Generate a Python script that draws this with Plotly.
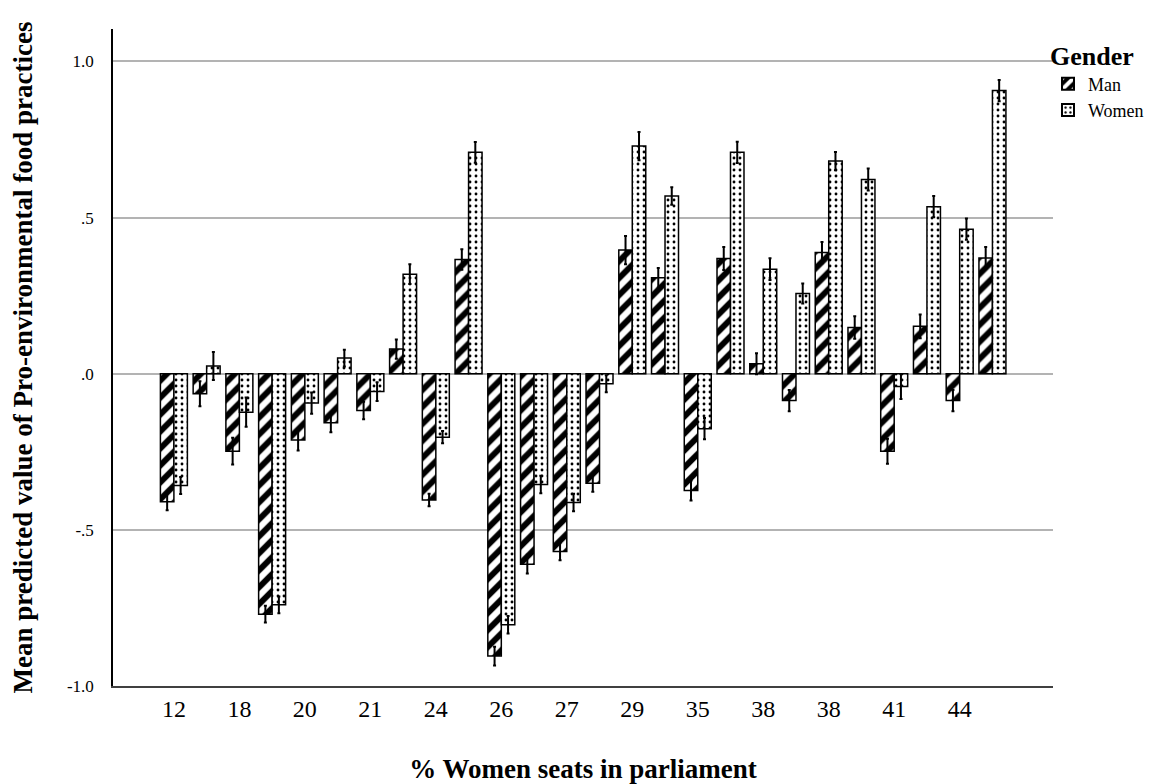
import plotly.graph_objects as go

# ---- data ----
groups = list(range(26))
tick_labels = ["12", "18", "20", "21", "24", "26", "27", "29", "35", "38", "38", "41", "44"]
tick_groups = list(range(0, 26, 2))

man = [-0.410, -0.064, -0.248, -0.770, -0.212, -0.157, -0.118, 0.079, -0.404, 0.366,
       -0.904, -0.610, -0.569, -0.351, 0.396, 0.307, -0.374, 0.369, 0.032, -0.086,
       0.388, 0.148, -0.248, 0.152, -0.086, 0.371]
women = [-0.358, 0.025, -0.123, -0.740, -0.094, 0.050, -0.057, 0.319, -0.203, 0.709,
         -0.804, -0.355, -0.412, -0.032, 0.729, 0.569, -0.176, 0.709, 0.335, 0.257,
         0.681, 0.622, -0.041, 0.535, 0.463, 0.907]
man_err = [0.027, 0.040, 0.043, 0.027, 0.034, 0.030, 0.028, 0.031, 0.020, 0.033,
           0.030, 0.030, 0.028, 0.027, 0.045, 0.032, 0.032, 0.037, 0.034, 0.034,
           0.034, 0.036, 0.040, 0.038, 0.034, 0.035]
women_err = [0.027, 0.045, 0.047, 0.027, 0.034, 0.027, 0.030, 0.032, 0.020, 0.033,
             0.028, 0.028, 0.028, 0.027, 0.045, 0.028, 0.034, 0.034, 0.035, 0.032,
             0.029, 0.035, 0.040, 0.034, 0.034, 0.034]

y_ticks = [-1.0, -0.5, 0.0, 0.5, 1.0]
y_ticktext = ["-1.0", "-.5", ".0", ".5", "1.0"]

SERIF = "Liberation Serif, Times New Roman, serif"

fig = go.Figure()
fig.add_trace(go.Bar(
    x=groups, y=man, name="Man",
    marker=dict(color="black", line=dict(color="black", width=1.5),
                pattern=dict(shape="/", bgcolor="black", fgcolor="white",
                             fgopacity=1, size=12, solidity=0.5)),
    error_y=dict(type="data", array=man_err, visible=True,
                 color="black", thickness=2, width=1.5),
))
fig.add_trace(go.Bar(
    x=groups, y=women, name="Women",
    marker=dict(color="white", line=dict(color="black", width=1.5),
                pattern=dict(shape=".", bgcolor="white", fgcolor="black",
                             fgopacity=1, size=6, solidity=0.18)),
    error_y=dict(type="data", array=women_err, visible=True,
                 color="black", thickness=2, width=1.5),
))

# page body has an 8px margin, so the figure is 8px smaller and shifted
fig.update_layout(
    width=1145, height=776,
    margin=dict(l=105, r=100, t=21, b=98, autoexpand=False),
    paper_bgcolor="white", plot_bgcolor="white",
    barmode="group", bargap=0.176, bargroupgap=0.0,
    font=dict(family=SERIF, color="black"),
    showlegend=True,
    legend=dict(
        title=dict(text="<b>Gender</b>", font=dict(size=26, family=SERIF)),
        font=dict(size=18, family=SERIF),
        x=0.9947, xanchor="left", y=0.996, yanchor="top",
        bgcolor="rgba(0,0,0,0)", tracegroupgap=0, itemsizing="constant",
    ),
)
fig.update_xaxes(
    range=[-1.86, 26.85], automargin=False,
    tickmode="array", tickvals=tick_groups, ticktext=tick_labels,
    tickfont=dict(size=24, family=SERIF), ticks="", ticklabelstandoff=0,
    showgrid=False, zeroline=False,
    showline=True, linecolor="#404040", linewidth=2,
    title=dict(text="<b>% Women seats in parliament</b>",
               font=dict(size=27, family=SERIF), standoff=54),
)
fig.update_yaxes(
    range=[-1.0, 1.104], automargin=False,
    tickmode="array", tickvals=y_ticks, ticktext=y_ticktext,
    tickfont=dict(size=17, family=SERIF), ticks="", ticklabelstandoff=14,
    showgrid=True, gridcolor="#b3b3b3", gridwidth=1.5,
    zeroline=False,
    showline=True, linecolor="black", linewidth=1.5,
    title=dict(text="<b>Mean predicted value of Pro-environmental food practices</b>",
               font=dict(size=27, family=SERIF), standoff=28),
)

fig.write_html("out.html")
